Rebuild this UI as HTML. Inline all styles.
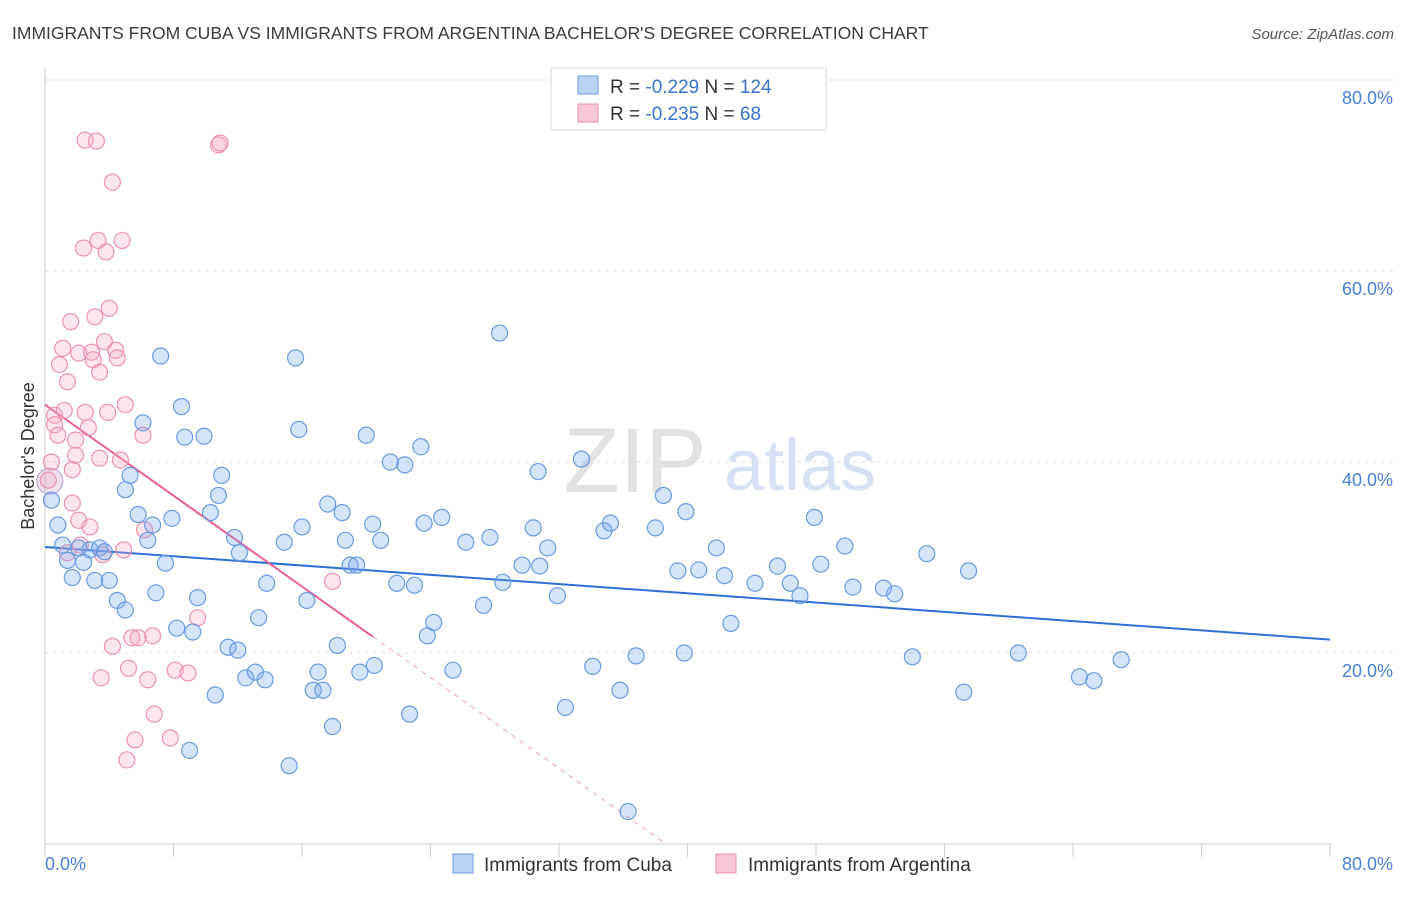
<!DOCTYPE html>
<html><head><meta charset="utf-8"><style>
body{margin:0;background:#fff;font-family:"Liberation Sans",sans-serif}
svg text{font-family:"Liberation Sans",sans-serif}
</style></head><body>
<svg id="chart" width="1406" height="892" xmlns="http://www.w3.org/2000/svg">
<text x="12" y="39" font-size="17.5" fill="#3c3c3c">IMMIGRANTS FROM CUBA VS IMMIGRANTS FROM ARGENTINA BACHELOR'S DEGREE CORRELATION CHART</text>
<text x="1394" y="39" font-size="15" fill="#555" font-style="italic" text-anchor="end">Source: ZipAtlas.com</text>
<g><text x="635" y="492" font-size="92" fill="#e2e2e2" font-family="Liberation Serif" text-anchor="middle">ZIP</text><text x="800" y="490" font-size="72" fill="#d6e2f3" text-anchor="middle">atlas</text></g>
<g id="grid"></g><g id="axes"></g><g id="trend"></g><g id="pts"></g>
<text transform="translate(34,456) rotate(-90)" font-size="18" fill="#333" text-anchor="middle">Bachelor's Degree</text>
<g>
<rect x="551" y="68" width="275" height="62" fill="#fff" stroke="#d8d8d8"/>
<rect x="578" y="76" width="20" height="18" fill="#bcd3f3" stroke="#6b9be0"/>
<text x="610" y="93" font-size="19" fill="#333">R = <tspan fill="#3b73d1">-0.229</tspan>   N = <tspan fill="#3b73d1">124</tspan></text>
<rect x="578" y="104" width="20" height="18" fill="#f7c7d6" stroke="#e890aa"/>
<text x="610" y="120" font-size="19" fill="#333">R = <tspan fill="#3b73d1">-0.235</tspan>   N = <tspan fill="#3b73d1">  68</tspan></text>
</g>
<g>
<rect x="453" y="854" width="20" height="19" fill="#bcd3f3" stroke="#6b9be0"/>
<text x="484" y="871" font-size="19" fill="#333">Immigrants from Cuba</text>
<rect x="716" y="854" width="20" height="19" fill="#f7c7d6" stroke="#e890aa"/>
<text x="748" y="871" font-size="19" fill="#333">Immigrants from Argentina</text>
</g>
</svg>
<script>
const yTicks=[20,40,60,80];
const yTickLabels=["20.0%","40.0%","60.0%","80.0%"];
const xTickLabels=["0.0%","80.0%"];
const cubaX=[0.4,0.8,1.1,1.4,1.7,2.1,2.4,2.8,3.1,3.4,3.7,4.0,4.5,5.0,5.0,5.3,5.8,6.1,6.4,6.7,6.9,7.2,7.5,7.9,8.2,8.5,8.7,9.0,9.2,9.5,9.9,10.3,10.6,10.8,11.0,11.4,11.8,12.0,12.1,12.5,13.1,13.3,13.7,13.8,14.9,15.2,15.6,15.8,16.0,16.3,16.7,17.0,17.3,17.6,17.9,18.2,18.5,18.7,19.0,19.4,19.6,20.0,20.4,20.5,20.9,21.5,21.9,22.4,22.7,23.0,23.4,23.6,23.8,24.2,24.7,25.4,26.2,27.3,27.7,28.3,28.5,29.7,30.4,30.7,30.8,31.3,31.9,32.4,33.4,34.1,34.8,35.2,35.8,36.3,36.8,38.0,38.5,39.4,39.8,39.9,40.7,41.8,42.3,42.7,44.2,45.6,46.4,47.0,47.9,48.3,49.8,50.3,52.2,52.9,54.0,54.9,57.2,57.5,60.6,64.4,65.3,67.0];
const cubaY=[36.0,33.4,31.3,29.7,27.9,31.0,29.5,30.8,27.6,31.0,30.6,27.6,25.5,24.5,37.1,38.6,34.5,44.1,31.8,33.4,26.3,51.1,29.4,34.1,22.6,45.8,42.6,9.8,22.2,25.8,42.7,34.7,15.6,36.5,38.6,20.6,32.1,20.3,30.5,17.4,18.0,23.7,17.2,27.3,31.6,8.2,50.9,43.4,33.2,25.5,16.1,18.0,16.1,35.6,12.3,20.8,34.7,31.8,29.2,29.2,18.0,42.8,33.5,18.7,31.8,40.0,27.3,39.7,13.6,27.1,41.6,33.6,21.8,23.2,34.2,18.2,31.6,25.0,32.1,53.5,27.4,29.2,33.1,39.0,29.1,31.0,26.0,14.3,40.3,18.6,32.8,33.6,16.1,3.4,19.7,33.1,36.5,28.6,20.0,34.8,28.7,31.0,28.1,23.1,27.3,29.1,27.3,26.0,34.2,29.3,31.2,26.9,26.8,26.2,19.6,30.4,15.9,28.6,20.0,17.5,17.1,19.3];
const argX=[0.2,0.4,0.6,0.6,0.8,0.9,1.1,1.2,1.4,1.6,1.7,1.7,1.9,1.9,2.1,2.1,2.2,2.4,2.5,2.5,2.7,2.8,2.9,3.0,3.1,3.2,3.3,3.4,3.4,3.5,3.6,3.7,3.8,3.9,4.0,4.2,4.2,4.4,4.5,4.7,4.8,4.9,5.0,5.2,5.4,5.6,5.8,6.1,6.2,6.4,6.7,6.8,7.8,8.1,8.9,9.5,10.8,10.9,17.9,5.1,1.4];
const argY=[38.1,40.0,44.9,43.9,42.8,50.2,51.9,45.4,48.4,54.7,39.2,35.7,42.3,40.7,33.9,51.4,31.3,62.4,73.7,45.2,43.6,33.2,51.5,50.7,55.2,73.6,63.2,49.4,40.4,17.4,30.3,52.6,62.0,45.2,56.1,69.3,20.7,51.7,50.9,40.2,63.2,30.8,46.0,18.4,21.6,10.9,21.6,42.8,32.9,17.2,21.8,13.6,11.1,18.2,17.9,23.7,73.2,73.4,27.5,8.8,30.5];
const cubaTrend=[31.1,21.4];       // y at x=0, x=80
const argTrend=[46.0,-1.19,20.4];   // intercept, slope, solid end x
const NS="http://www.w3.org/2000/svg";
const X0=45,X1=1330,Y0=844,Y80=80;
const sx=v=>X0+(X1-X0)*v/80, sy=v=>Y0-(Y0-Y80)*v/80;
function mk(tag,attrs,parent){const e=document.createElementNS(NS,tag);for(const k in attrs)e.setAttribute(k,attrs[k]);document.getElementById(parent).appendChild(e);return e;}
yTicks.forEach((t,i)=>{
 const g=mk('line',{x1:X0,x2:1393,y1:sy(t),y2:sy(t),stroke:'#dcdcdc','stroke-dasharray':'4,4'},'grid');
 
 
 const l=mk('text',{x:1393,y:sy(t)+24,'font-size':18,fill:'#4a7fd6','text-anchor':'end'},'axes');
 l.textContent=yTickLabels[i];
 
 
});
const ax=mk('line',{x1:X0,x2:X0,y1:68,y2:Y0,stroke:'#ccc'},'axes');


const bx=mk('line',{x1:X0,x2:X1,y1:Y0,y2:Y0,stroke:'#ccc'},'axes');


for(let i=0;i<=10;i++){const t=mk('line',{x1:sx(i*8),x2:sx(i*8),y1:Y0,y2:Y0+13,stroke:'#ccc'},'axes');
 
 }
const xl0=mk('text',{x:45,y:870,'font-size':18,fill:'#4a7fd6'},'axes');xl0.textContent=xTickLabels[0];


const xl1=mk('text',{x:1393,y:870,'font-size':18,fill:'#4a7fd6','text-anchor':'end'},'axes');xl1.textContent=xTickLabels[1];


// trends
const tl=mk('line',{x1:sx(0),y1:sy(cubaTrend[0]),x2:sx(80),y2:sy(cubaTrend[1]),stroke:'#2e6fd6','stroke-width':2},'trend');


const aEnd=argTrend[2], aZero=-argTrend[0]/argTrend[1];
const pl=mk('line',{x1:sx(0),y1:sy(argTrend[0]),x2:sx(aEnd),y2:sy(argTrend[0]+argTrend[1]*aEnd),stroke:'#e8608e','stroke-width':2},'trend');


const pd=mk('line',{x1:sx(aEnd),y1:sy(argTrend[0]+argTrend[1]*aEnd),x2:sx(aZero),y2:sy(0),stroke:'#e8a0b8','stroke-width':1,'stroke-dasharray':'5,5'},'trend');


// points
const big=mk('circle',{cx:sx(0.3),cy:sy(38.0),r:13,fill:'rgba(200,170,200,0.35)',stroke:'#b9a6cf','stroke-width':1.2},'pts');


argX.forEach((x,i)=>{const c=mk('circle',{cx:sx(x),cy:sy(argY[i]),r:8,fill:'rgba(244,170,195,0.3)',stroke:'#ec93b0','stroke-width':1.2},'pts');
 
 });
cubaX.forEach((x,i)=>{const c=mk('circle',{cx:sx(x),cy:sy(cubaY[i]),r:8,fill:'rgba(120,165,235,0.3)',stroke:'#6b9be0','stroke-width':1.2},'pts');
 
 });
</script>
</body></html>
